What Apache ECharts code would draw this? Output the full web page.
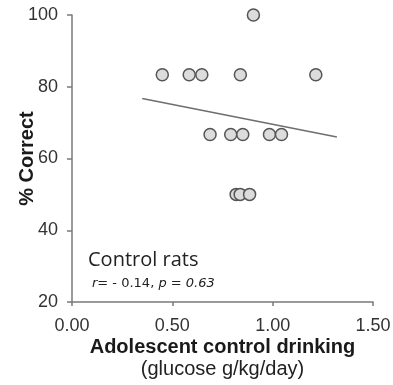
<!DOCTYPE html>
<html>
<head>
<meta charset="utf-8">
<script src="https://cdn.jsdelivr.net/npm/echarts@6/dist/echarts.min.js"></script>
<style>
  html, body { margin: 0; padding: 0; background: #fff; }
  #chart { width: 393px; height: 385px; }
</style>
</head>
<body>
<div id="chart"></div>
<script>
// Adolescent glucose intake (g/kg/day) vs. % correct, control rats
const drinking = [0.45, 0.584, 0.647, 0.839, 1.215, 0.904,
                  0.688, 0.791, 0.851, 0.984, 1.044,
                  0.818, 0.838, 0.885];
const correct  = [83.33, 83.33, 83.33, 83.33, 83.33, 100,
                  66.67, 66.67, 66.67, 66.67, 66.67,
                  50, 50, 50];
// Least-squares fit line endpoints
const fitLine = [[0.35, 76.7], [1.32, 66.0]];
const xTicks = [0, 0.5, 1.0, 1.5];
const yTicks = [20, 40, 60, 80, 100];
const groupLabel = 'Control rats';
const statsParts = ['r', '= - 0.14, ', 'p', ' = 0.63'];

const points = drinking.map((x, i) => [x, correct[i]]);
const chart = echarts.init(document.getElementById('chart'), null, { renderer: 'canvas' });

const axisColor = '#7a7a7a';
const sans = 'Liberation Sans, Arial, sans-serif';
const statsFont = 'DejaVu Sans, sans-serif';

chart.setOption({
  animation: false,
  grid: { left: 72, right: 20, top: 15, bottom: 83, outerBoundsMode: 'none', containLabel: false },
  xAxis: {
    type: 'value',
    min: xTicks[0], max: xTicks[xTicks.length - 1], interval: 0.5,
    axisLine: { lineStyle: { color: axisColor, width: 1.5 } },
    axisTick: { show: true, length: 4, lineStyle: { color: axisColor, width: 1.5 } },
    splitLine: { show: false },
    axisLabel: { formatter: v => v.toFixed(2), color: '#333', fontSize: 18, fontFamily: sans, margin: 15 },
    name: '{b|Adolescent control drinking}\n{n|(glucose g/kg/day)}',
    nameLocation: 'middle',
    nameGap: 34,
    nameMoveOverlap: false,
    nameTextStyle: {
      rich: {
        b: { fontSize: 20, fontWeight: 'bold', color: '#1a1a1a', fontFamily: sans, lineHeight: 22 },
        n: { fontSize: 20, color: '#222', fontFamily: sans, lineHeight: 22 }
      }
    }
  },
  yAxis: {
    type: 'value',
    min: yTicks[0], max: yTicks[yTicks.length - 1], interval: 20,
    axisLine: { show: true, lineStyle: { color: axisColor, width: 1.5 } },
    axisTick: { show: true, length: 5, lineStyle: { color: axisColor, width: 1.5 } },
    splitLine: { show: false },
    axisLabel: { color: '#333', fontSize: 18, fontFamily: sans, margin: 14 },
    name: '% Correct',
    nameLocation: 'middle',
    nameGap: 35,
    nameMoveOverlap: false,
    nameTextStyle: { fontSize: 20, fontWeight: 'bold', color: '#1a1a1a', fontFamily: sans }
  },
  graphic: [
    {
      type: 'text',
      style: {
        x: 88, y: 260.5,
        text: groupLabel,
        font: '20px "Open Sans", sans-serif',
        fill: '#222',
        verticalAlign: 'middle'
      }
    },
    {
      type: 'text',
      style: {
        x: 92, y: 283.5,
        text: '{i|' + statsParts[0] + '}{u|' + statsParts[1] + '}{i|' + statsParts[2] + '}{i|' + statsParts[3] + '}',
        verticalAlign: 'middle',
        rich: {
          i: { fontSize: 13, fontStyle: 'italic', fontFamily: statsFont, fill: '#222' },
          u: { fontSize: 13, fontFamily: statsFont, fill: '#222' }
        }
      }
    }
  ],
  series: [
    {
      type: 'line',
      data: fitLine,
      symbol: 'none',
      lineStyle: { color: '#6e6e6e', width: 1.5 },
      z: 1
    },
    {
      type: 'scatter',
      data: points,
      symbol: 'circle',
      symbolSize: 12,
      itemStyle: { color: '#dcdcdc', borderColor: '#555', borderWidth: 1.5, opacity: 1 },
      z: 2
    }
  ]
});
</script>
</body>
</html>
